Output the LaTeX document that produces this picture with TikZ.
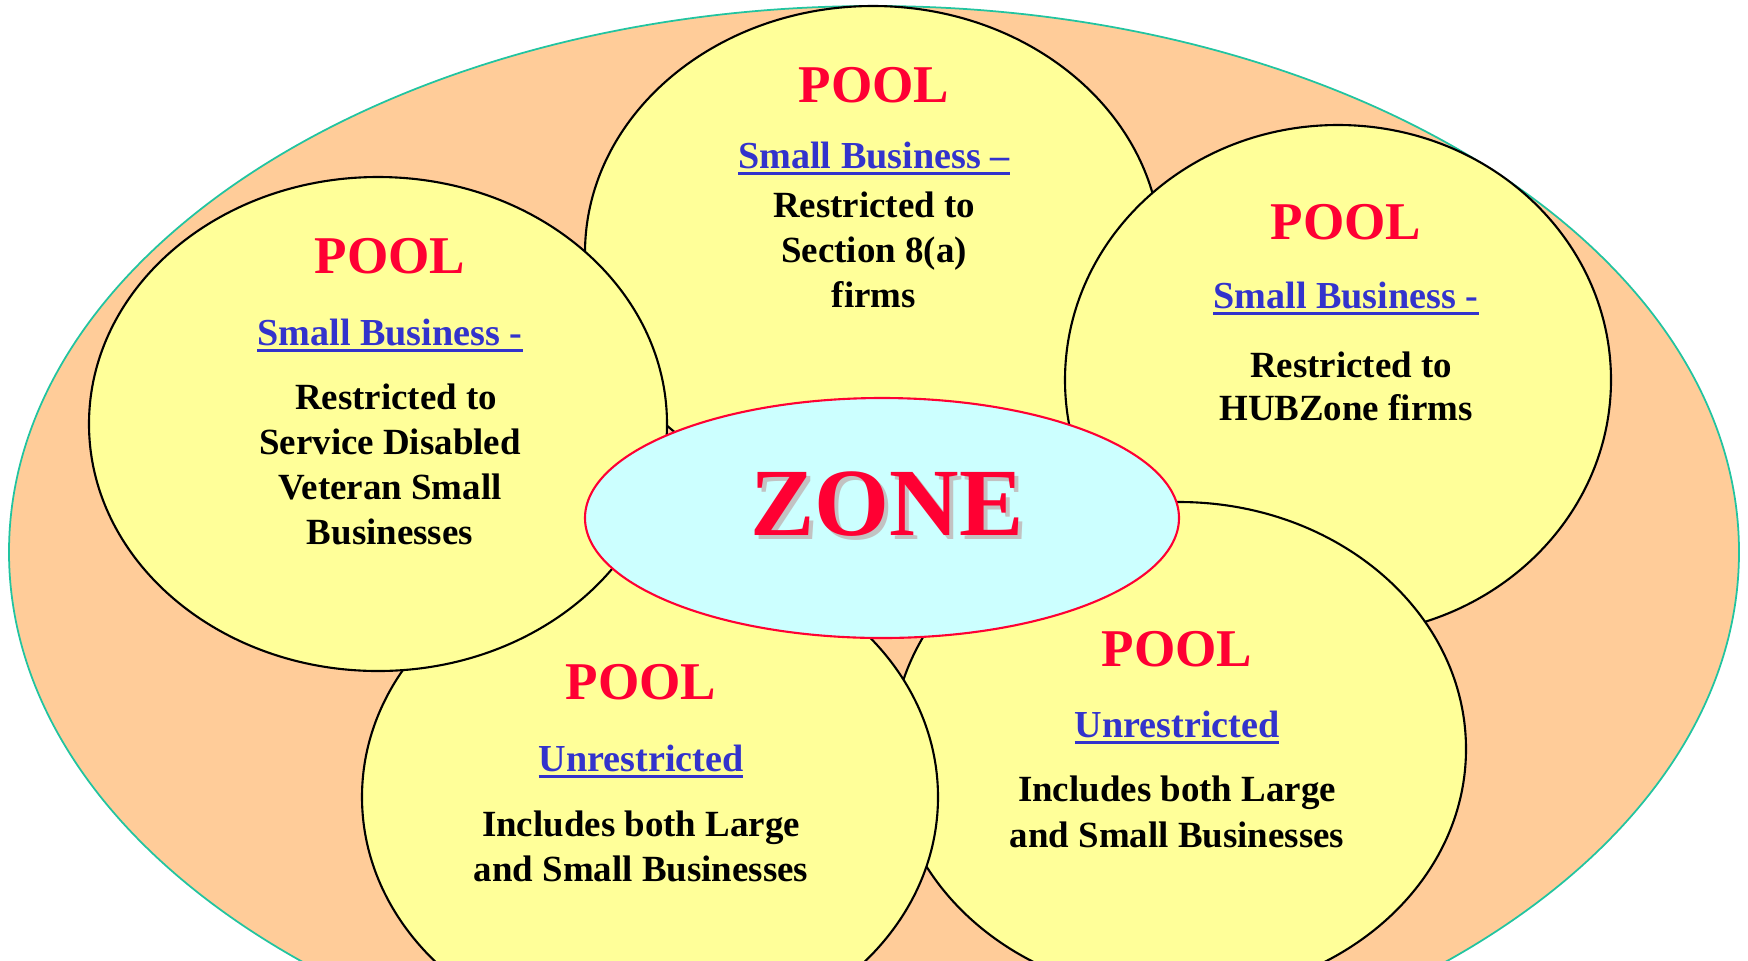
\documentclass[tikz,border=0pt]{standalone}
\usepackage{fontspec}
\setmainfont{Liberation Serif}

\definecolor{peach}{HTML}{FFCC99}
\definecolor{poolyellow}{HTML}{FFFF99}
\definecolor{zonecyan}{HTML}{CCFFFF}
\definecolor{poolred}{HTML}{FF0033}
\definecolor{linkblue}{HTML}{3333CC}
\definecolor{rimteal}{HTML}{22C4A0}

% underlined pool heading
\newcommand{\headul}[1]{\setbox0=\hbox{#1}\rlap{\rule[-2pt]{\wd0}{1pt}}\box0}

\tikzset{
  pool/.style={draw=black,line width=0.6pt,fill=poolyellow},
  pooltitle/.style={anchor=base,inner sep=0pt,text=poolred,font=\fontsize{15.1}{18}\selectfont\bfseries},
  poolhead/.style={anchor=base,inner sep=0pt,text=linkblue,font=\fontsize{10.85}{13}\selectfont\bfseries},
  pooltext/.style={anchor=base,inner sep=0pt,font=\fontsize{10.5}{12.5}\selectfont\bfseries},
  zonetext/.style={anchor=base,inner sep=0pt,font=\fontsize{27.4}{32}\selectfont\bfseries}
}

\begin{document}
\begin{tikzpicture}[x=0.01cm,y=-0.01cm]
\useasboundingbox (0,0) rectangle (1748,960);
\clip (0,0) rectangle (1748,960);

% Outer area
\draw[rimteal,line width=0.5pt,fill=peach] (874,552) ellipse [x radius=865,y radius=546];

% Pools, back to front
\draw[pool] (873,253) ellipse [x radius=288,y radius=247];
\draw[pool] (1338,380) ellipse [x radius=273,y radius=255];
\draw[pool] (1179,749) ellipse [x radius=287,y radius=247];
\draw[pool] (650,797) ellipse [x radius=288,y radius=247];
\draw[pool] (378,424) ellipse [x radius=289,y radius=247];

% Centre
\draw[poolred,line width=0.6pt,fill=zonecyan] (882,518) ellipse [x radius=297,y radius=120];
\node[zonetext,text=black!24] (zoneshadow) at (891,539) {ZONE};
\node[zonetext,text=poolred] (zone) at (887,535) {ZONE};

% Top pool
\node[pooltitle] (toptitle) at (874,102) {POOL};
\node[poolhead] (tophead) at (874,168) {\headul{Small Business --}};
\node[pooltext] (topa) at (874,217) {Restricted to};
\node[pooltext] (topb) at (874,262) {Section 8(a)};
\node[pooltext] (topc) at (874,307) {firms};

% Left pool
\node[pooltitle] (lefttitle) at (390,273) {POOL};
\node[poolhead] (lefthead) at (390,345) {\headul{Small Business -}};
\node[pooltext] (lefta) at (396,409) {Restricted to};
\node[pooltext] (leftb) at (390,454) {Service Disabled};
\node[pooltext] (leftc) at (390,499) {Veteran Small};
\node[pooltext] (leftd) at (390,544) {Businesses};

% Right pool
\node[pooltitle] (righttitle) at (1346,239) {POOL};
\node[poolhead] (righthead) at (1346,308) {\headul{Small Business -}};
\node[pooltext] (righta) at (1351,377) {Restricted to};
\node[pooltext] (rightb) at (1346,420) {HUBZone firms};

% Bottom left pool
\node[pooltitle] (bltitle) at (641,699) {POOL};
\node[poolhead] (blhead) at (641,771) {\headul{Unrestricted}};
\node[pooltext] (bla) at (641,836) {Includes both Large};
\node[pooltext] (blb) at (641,881) {and Small Businesses};

% Bottom right pool
\node[pooltitle] (brtitle) at (1177,666) {POOL};
\node[poolhead] (brhead) at (1177,737) {\headul{Unrestricted}};
\node[pooltext] (bra) at (1177,801) {Includes both Large};
\node[pooltext] (brb) at (1177,847) {and Small Businesses};
\end{tikzpicture}
\end{document}
